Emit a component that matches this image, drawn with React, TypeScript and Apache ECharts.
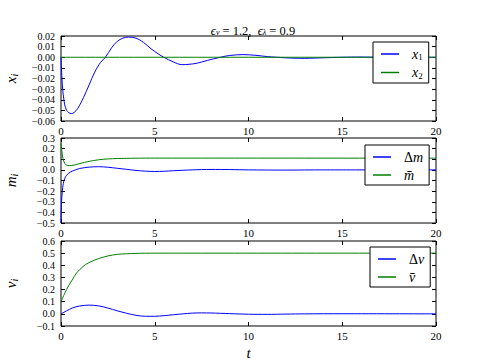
import React, { useEffect, useRef } from "react";
import * as echarts from "echarts";

// ---- data ----
const tX1 = [0, 0.05, 0.1, 0.2, 0.3, 0.4, 0.55, 0.7, 0.9, 1.2, 1.5, 1.8, 2.1, 2.37, 2.7, 3.0, 3.3, 3.6, 4.0, 4.4, 4.8, 5.2, 5.48, 6.0, 6.45, 7.2, 7.8, 8.5, 9.0, 9.7, 10.4, 11.0, 11.5, 12.3, 13.0, 14.0, 15.0, 16.0, 17.0, 20.0];
const x1Vals = [0, -0.02, -0.032, -0.045, -0.05, -0.052, -0.053, -0.052, -0.048, -0.038, -0.026, -0.014, -0.005, 0, 0.009, 0.015, 0.018, 0.019, 0.018, 0.014, 0.008, 0.003, 0, -0.0045, -0.007, -0.0058, -0.003, 0, 0.0017, 0.0025, 0.0018, 0.0006, 0, -0.0008, -0.001, -0.0005, 0, 0.0002, 0, 0];
const tX2 = [0, 20];
const x2Vals = [0, 0];

const tDm = [0, 0.03, 0.07, 0.12, 0.2, 0.3, 0.5, 0.7, 1.0, 1.5, 2.0, 2.5, 3.0, 3.5, 4.0, 4.5, 5.0, 5.5, 6.0, 7.0, 8.0, 9.0, 10.0, 12.0, 14.0, 20.0];
const dmVals = [-0.5, -0.3, -0.2, -0.13, -0.08, -0.05, -0.02, -0.005, 0.013, 0.026, 0.03, 0.025, 0.015, 0.005, -0.005, -0.012, -0.015, -0.013, -0.008, 0, 0.004, 0.003, 0, -0.002, 0, 0];
const tMbar = [0, 0.05, 0.1, 0.2, 0.3, 0.45, 0.7, 1.0, 1.5, 2.0, 2.5, 3.0, 4.0, 5.0, 20.0];
const mbarVals = [0.25, 0.17, 0.11, 0.06, 0.045, 0.04, 0.045, 0.06, 0.08, 0.095, 0.103, 0.107, 0.11, 0.111, 0.11];

const tDv = [0, 0.3, 0.6, 1.0, 1.5, 2.0, 2.5, 3.0, 3.5, 4.0, 4.5, 5.0, 5.5, 6.0, 6.5, 7.0, 7.5, 8.0, 9.0, 10.0, 11.0, 12.0, 13.0, 15.0, 20.0];
const dvVals = [0, 0.025, 0.048, 0.065, 0.072, 0.066, 0.048, 0.025, 0.005, -0.012, -0.02, -0.02, -0.015, -0.007, 0, 0.006, 0.008, 0.007, 0.002, -0.003, -0.004, -0.002, 0, 0.001, 0];
const tVbar = [0, 0.2, 0.4, 0.6, 0.8, 1.0, 1.3, 1.6, 2.0, 2.5, 3.0, 3.5, 4.0, 5.0, 20.0];
const vbarVals = [0.1, 0.17, 0.23, 0.28, 0.33, 0.365, 0.405, 0.43, 0.455, 0.477, 0.49, 0.495, 0.498, 0.5, 0.5];

const xTicks = { min: 0, max: 20, interval: 5 };
const yRanges = [
  { min: -0.06, max: 0.02, interval: 0.01, dec: 2 },
  { min: -0.5, max: 0.3, interval: 0.1, dec: 1 },
  { min: -0.1, max: 0.6, interval: 0.1, dec: 1 },
];

const BLUE = "#0000ff";
const GREEN = "#008000";
const FONT = "'Liberation Serif', 'DejaVu Serif', serif";

const pair = (t: number[], v: number[]) => t.map((x, i) => [x, v[i]]);

export default function App() {
  const ref = useRef<HTMLDivElement>(null);
  useEffect(() => {
    const chart = echarts.init(ref.current!, null, { renderer: "svg" });
    const tops = [36, 138, 241];
    const grids = tops.map((top) => ({
      left: 61,
      top,
      width: 375,
      height: 85,
      containLabel: false,
      outerBoundsMode: "none",
      show: true,
      borderColor: "#000",
      borderWidth: 1,
      backgroundColor: "transparent",
    }));
    const fmtY = (dec: number) => (v: number) => {
      const r = Math.abs(v) < 1e-9 ? 0 : v;
      return r.toFixed(dec).replace("-", "\u2212");
    };
    const xAxes: any[] = [];
    const yAxes: any[] = [];
    const yNames = ["{i|x}{s|i}", "{i|m}{s|i}", "{i|v}{s|i}"];
    const nameRich = {
      i: { fontFamily: FONT, fontStyle: "italic", fontSize: 15, color: "#000" },
      s: { fontFamily: FONT, fontStyle: "italic", fontSize: 10, color: "#000", padding: [6, 0, 0, 0] },
    };
    const tick = { inside: true, length: 4, lineStyle: { color: "#000" } };
    const noLine = { show: false, onZero: false };
    for (let g = 0; g < 3; g++) {
      xAxes.push({
        type: "value",
        gridIndex: g,
        ...xTicks,
        position: "bottom",
        axisLine: noLine,
        axisTick: tick,
        splitLine: { show: false },
        axisLabel: {
          fontFamily: FONT, fontSize: 11, color: "#000", margin: 4,
          showMinLabel: true, showMaxLabel: true, hideOverlap: false,
        },
        ...(g === 2
          ? {
              name: "t",
              nameLocation: "middle",
              nameGap: 19,
              nameTextStyle: { fontFamily: FONT, fontStyle: "italic", fontSize: 15, color: "#000" },
            }
          : {}),
      });
      xAxes.push({
        type: "value",
        gridIndex: g,
        ...xTicks,
        position: "top",
        axisLine: noLine,
        axisTick: tick,
        splitLine: { show: false },
        axisLabel: { show: false },
      });
      const yr = yRanges[g];
      yAxes.push({
        type: "value",
        gridIndex: g,
        min: yr.min,
        max: yr.max,
        interval: yr.interval,
        position: "left",
        axisLine: noLine,
        axisTick: tick,
        splitLine: { show: false },
        axisLabel: {
          fontFamily: FONT, fontSize: 10, color: "#000", margin: 6, formatter: fmtY(yr.dec),
          showMinLabel: true, showMaxLabel: true, hideOverlap: false,
        },
        name: yNames[g],
        nameLocation: "middle",
        nameRotate: 90,
        nameGap: 42,
        nameTextStyle: { rich: nameRich },
      });
      yAxes.push({
        type: "value",
        gridIndex: g,
        min: yr.min,
        max: yr.max,
        interval: yr.interval,
        position: "right",
        axisLine: noLine,
        axisTick: tick,
        splitLine: { show: false },
        axisLabel: { show: false },
      });
    }
    const mk = (name: string, g: number, color: string, data: number[][]) => ({
      name,
      type: "line",
      xAxisIndex: g * 2,
      yAxisIndex: g * 2,
      data,
      symbol: "none",
      showSymbol: false,
      smooth: 0.3,
      lineStyle: { color, width: 1 },
      itemStyle: { color },
      z: 3,
    });
    const legRich = {
      i: { fontFamily: FONT, fontStyle: "italic", fontSize: 14, color: "#000" },
      n: { fontFamily: FONT, fontSize: 14, color: "#000" },
      s: { fontFamily: FONT, fontSize: 9, color: "#000", padding: [6, 0, 0, 0] },
    };
    const legLabels: Record<string, string> = {
      x1: "{i|x}{s|1}",
      x2: "{i|x}{s|2}",
      dm: "{n|\u0394}{i|m}",
      mbar: "{i|m\u0304}",
      dv: "{n|\u0394}{i|v}",
      vbar: "{i|v\u0304}",
    };
    const mkLegend = (data: string[], left: number, top: number, w: number) => ({
      data,
      orient: "vertical",
      left,
      top,
      width: w,
      padding: [5, 6, 3, 8],
      itemGap: 4,
      itemWidth: 18,
      itemHeight: 1.5,
      icon: "rect",
      backgroundColor: "#fff",
      borderColor: "#000",
      borderWidth: 1,
      formatter: (n: string) => legLabels[n],
      textStyle: { rich: legRich, padding: [0, 0, 0, 8] },
    });
    chart.setOption({
      animation: false,
      backgroundColor: "#fff",
      title: {
        text: "{e|\u03f5}{s|v}{n| = 1.2,  }{e|\u03f5}{s|\u03bb}{n| = 0.9}",
        left: 248,
        textAlign: "center",
        top: 19,
        textStyle: {
          rich: {
            e: { fontFamily: FONT, fontStyle: "italic", fontWeight: "normal", fontSize: 12.5, color: "#000" },
            n: { fontFamily: FONT, fontWeight: "normal", fontSize: 12.5, color: "#000" },
            s: { fontFamily: FONT, fontStyle: "italic", fontWeight: "normal", fontSize: 8, color: "#000", padding: [4, 0, 0, 0] },
          },
        },
      },
      grid: grids,
      xAxis: xAxes,
      yAxis: yAxes,
      legend: [
        mkLegend(["x1", "x2"], 373, 42, 58),
        mkLegend(["dm", "mbar"], 365, 145, 65),
        mkLegend(["dv", "vbar"], 370, 247, 60),
      ],
      series: [
        mk("x1", 0, BLUE, pair(tX1, x1Vals)),
        mk("x2", 0, GREEN, pair(tX2, x2Vals)),
        mk("dm", 1, BLUE, pair(tDm, dmVals)),
        mk("mbar", 1, GREEN, pair(tMbar, mbarVals)),
        mk("dv", 2, BLUE, pair(tDv, dvVals)),
        mk("vbar", 2, GREEN, pair(tVbar, vbarVals)),
      ],
    });
    return () => chart.dispose();
  }, []);
  return (
    <div
      ref={ref}
      style={{ position: "absolute", left: 0, top: 0, width: 485, height: 363 }}
    />
  );
}
